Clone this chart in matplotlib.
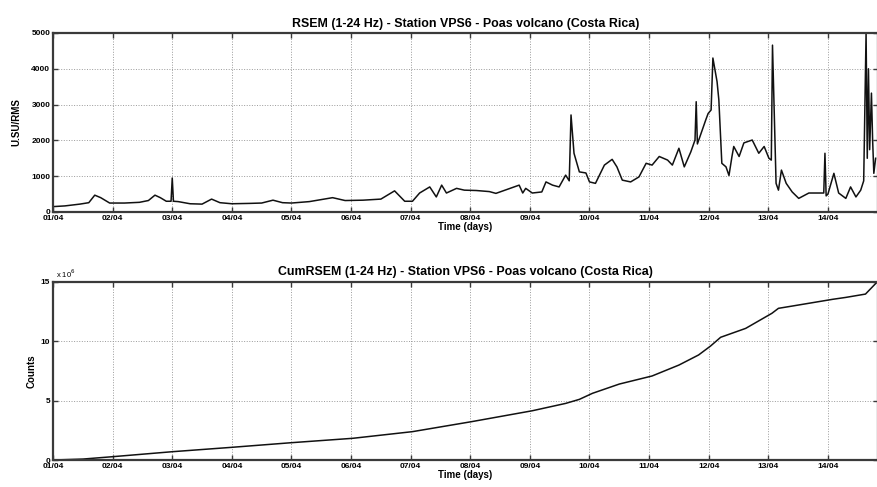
import matplotlib
matplotlib.use("Agg")
import matplotlib.pyplot as plt

plt.rcParams['font.family'] = ['Liberation Sans', 'DejaVu Sans']

# ---------------- data ----------------
day_labels = ["01/04", "02/04", "03/04", "04/04", "05/04", "06/04", "07/04",
              "08/04", "09/04", "10/04", "11/04", "12/04", "13/04", "14/04"]

rsem_days = [0, 0.2, 0.45, 0.6, 0.7, 0.8, 0.95, 1.2, 1.45, 1.6,
             1.71, 1.8, 1.9, 1.98, 2.0, 2.02, 2.1, 2.3, 2.5, 2.66,
             2.8, 3.0, 3.3, 3.5, 3.69, 3.85, 4.0, 4.3, 4.69, 4.9,
             5.2, 5.5, 5.73, 5.9, 6.03, 6.15, 6.32, 6.43, 6.52, 6.6,
             6.77, 6.9, 7.1, 7.32, 7.43, 7.6, 7.82, 7.88, 7.93, 8.04,
             8.2, 8.27, 8.38, 8.49, 8.6, 8.66, 8.69, 8.74, 8.83, 8.94,
             9.0, 9.1, 9.25, 9.38, 9.46, 9.55, 9.69, 9.83, 9.95, 10.05,
             10.17, 10.31, 10.39, 10.5, 10.59, 10.7, 10.77, 10.79, 10.81, 10.95,
             10.99, 11.04, 11.07, 11.14, 11.17, 11.22, 11.29, 11.34, 11.39, 11.42,
             11.51, 11.59, 11.73, 11.84, 11.93, 12.01, 12.05, 12.07, 12.13, 12.17,
             12.22, 12.3, 12.4, 12.51, 12.68, 12.93, 12.95, 12.97, 13.0, 13.1,
             13.18, 13.3, 13.38, 13.47, 13.55, 13.6, 13.64, 13.66, 13.68, 13.7,
             13.73, 13.75, 13.77, 13.8]
rsem_vals = [150, 170, 220, 260, 470, 400, 250, 250, 270, 320,
             470, 400, 300, 300, 950, 300, 290, 230, 220, 360,
             260, 230, 240, 250, 330, 260, 250, 290, 400, 320,
             330, 360, 590, 300, 300, 530, 700, 420, 750, 530,
             660, 610, 600, 570, 520, 620, 750, 530, 660, 530,
             560, 840, 750, 700, 1030, 870, 2710, 1640, 1120, 1090,
             840, 800, 1310, 1470, 1260, 890, 840, 980, 1360, 1310,
             1550, 1450, 1310, 1780, 1260, 1680, 2010, 3080, 1900, 2570,
             2750, 2850, 4300, 3640, 3130, 1360, 1260, 1020, 1550, 1830,
             1550, 1930, 2010, 1640, 1830, 1500, 1450, 4660, 800, 610,
             1170, 800, 560, 380, 530, 530, 1640, 450, 500, 1080,
             530, 380, 700, 420, 610, 870, 5000, 1500, 4000, 1740,
             3320, 2000, 1080, 1500]

cum_days = [0, 0.5, 1, 2, 3, 4, 5.03, 6.03, 7.02, 8.04,
            8.6, 8.83, 9.05, 9.5, 10.05, 10.5, 10.83, 11.03, 11.2, 11.62,
            12.06, 12.17, 12.4, 13.08, 13.3, 13.63, 13.82]
cum_vals = [0, 0.08, 0.28, 0.7, 1.07, 1.46, 1.83, 2.39, 3.23, 4.15,
            4.77, 5.11, 5.62, 6.4, 7.08, 8.0, 8.85, 9.6, 10.34, 11.09,
            12.36, 12.78, 12.97, 13.54, 13.7, 13.98, 14.97]

rsem_yticks = [0, 1000, 2000, 3000, 4000, 5000]
cum_yticks = [0, 5, 10, 15]

# ---------------- figure ----------------
fig = plt.figure(figsize=(8.78, 4.87), dpi=100)
ax1 = fig.add_axes([0.0604, 0.5647, 0.9396, 0.3676])
ax2 = fig.add_axes([0.0604, 0.0554, 0.9396, 0.3656])

spine_col = '#3a3a3a'
tick_fs = 6.0
label_fs = 7.0
title_fs = 8.9


def style(ax):
    for s in ax.spines.values():
        s.set_linewidth(1.6)
        s.set_color(spine_col)
    ax.tick_params(direction='in', length=3.5, width=1.0, color=spine_col,
                   top=True, right=True, labelsize=tick_fs, pad=2)
    ax.grid(True, linestyle=':', color='#9a9a9a', linewidth=0.7)
    ax.set_xticks(range(len(day_labels)))
    ax.set_xticklabels(day_labels, fontweight='bold')
    ax.set_xlim(0, 13.84)
    for lab in ax.get_yticklabels():
        lab.set_fontweight('bold')


ax1.plot(rsem_days, rsem_vals, color='#111111', linewidth=1.1)
ax1.set_ylim(0, 5000)
ax1.set_yticks(rsem_yticks)
ax1.set_yticklabels([str(v) for v in rsem_yticks])
style(ax1)
ax1.set_title("RSEM (1-24 Hz) - Station VPS6 - Poas volcano (Costa Rica)",
              fontsize=title_fs, fontweight='bold', pad=4)
ax1.set_xlabel("Time (days)", fontsize=label_fs, fontweight='bold', labelpad=0)
ax1.set_ylabel("U.SU/RMS", fontsize=label_fs, fontweight='bold', labelpad=7)

ax2.plot(cum_days, cum_vals, color='#111111', linewidth=1.1)
ax2.set_ylim(0, 15)
ax2.set_yticks(cum_yticks)
ax2.set_yticklabels([str(v) for v in cum_yticks])
style(ax2)
ax2.set_title("CumRSEM (1-24 Hz) - Station VPS6 - Poas volcano (Costa Rica)",
              fontsize=title_fs, fontweight='bold', pad=5)
ax2.set_xlabel("Time (days)", fontsize=label_fs, fontweight='bold', labelpad=0)
ax2.set_ylabel("Counts", fontsize=label_fs, fontweight='bold', labelpad=3)
ax2.text(0.003, 1.012, r"x 10$^{6}$", transform=ax2.transAxes,
         fontsize=5.5, ha='left', va='bottom')

fig.savefig("out.png", dpi=100)
